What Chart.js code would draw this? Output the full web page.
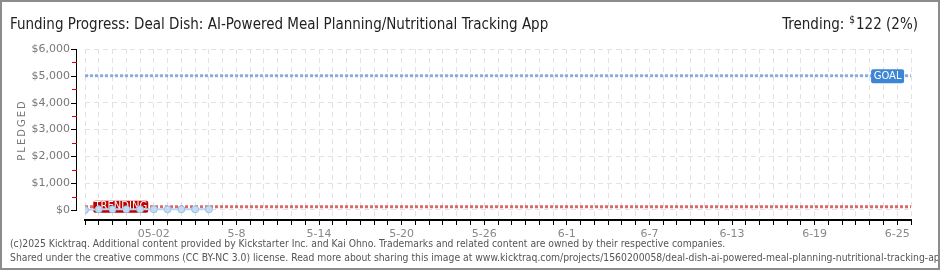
<!DOCTYPE html>
<html>
<head>
<meta charset="utf-8">
<script src="https://cdn.jsdelivr.net/npm/chart.js@4/dist/chart.umd.min.js"></script>
<style>
  html, body { margin: 0; padding: 0; background: #fff; }
  #wrap { width: 940px; height: 270px; position: relative; }
</style>
</head>
<body>
<div id="wrap"><canvas id="funding-chart" width="940" height="270"></canvas></div>
<script>
// Data (day 0 = 4-27)
const pledgedDays = [0, 1, 2, 3, 4, 5, 6, 7, 8, 9];
const pledgedValues = [0, 25, 25, 25, 25, 25, 25, 25, 25, 25];
const goalValue = 5000;
const trendingValue = 122;
const lastDay = 60;
const tickDays = [5, 11, 17, 23, 29, 35, 41, 47, 53, 59];
const tickLabels = ['05-02', '5-8', '5-14', '5-20', '5-26', '6-1', '6-7', '6-13', '6-19', '6-25'];
const yTicks = [0, 1000, 2000, 3000, 4000, 5000, 6000];
const yMinorTicks = [500, 1500, 2500, 3500, 4500, 5500];

const titleText = 'Funding Progress: Deal Dish: AI-Powered Meal Planning/Nutritional Tracking App';
const footer1 = '(c)2025 Kicktraq. Additional content provided by Kickstarter Inc. and Kai Ohno. Trademarks and related content are owned by their respective companies.';
const footer2 = 'Shared under the creative commons (CC BY-NC 3.0) license. Read more about sharing this image at www.kicktraq.com/projects/1560200058/deal-dish-ai-powered-meal-planning-nutritional-tracking-app/';

const NARROW = "'Liberation Sans Narrow', 'DejaVu Sans Condensed', sans-serif";

function roundBox(ctx, x, y, w, h, r) {
    ctx.beginPath();
    ctx.moveTo(x + r, y);
    ctx.lineTo(x + w - r, y);
    ctx.quadraticCurveTo(x + w, y, x + w, y + r);
    ctx.lineTo(x + w, y + h - r);
    ctx.quadraticCurveTo(x + w, y + h, x + w - r, y + h);
    ctx.lineTo(x + r, y + h);
    ctx.quadraticCurveTo(x, y + h, x, y + h - r);
    ctx.lineTo(x, y + r);
    ctx.quadraticCurveTo(x, y, x + r, y);
    ctx.closePath();
}

// Frame, titles, footer and the detached y axis
const decorations = {
    id: 'decorations',
    beforeDraw(chart) {
        const ctx = chart.ctx;
        ctx.save();
        ctx.fillStyle = '#fff';
        ctx.fillRect(0, 0, chart.width, chart.height);
        ctx.restore();
    },
    beforeDatasetsDraw(chart) {
        const ctx = chart.ctx;
        const y = chart.scales.y;
        const axisX = chart.chartArea.left - 9;
        ctx.save();
        // y axis line
        ctx.strokeStyle = '#000';
        ctx.lineWidth = 1;
        ctx.beginPath();
        ctx.moveTo(axisX + 0.5, y.getPixelForValue(6000));
        ctx.lineTo(axisX + 0.5, y.getPixelForValue(0));
        ctx.stroke();
        yTicks.forEach(v => {
            const py = Math.round(y.getPixelForValue(v)) + 0.5;
            ctx.beginPath();
            ctx.moveTo(axisX - 5, py);
            ctx.lineTo(axisX + 1, py);
            ctx.stroke();
        });
        ctx.strokeStyle = '#e00000';
        yMinorTicks.forEach(v => {
            const py = Math.round(y.getPixelForValue(v)) + 0.5;
            ctx.beginPath();
            ctx.moveTo(axisX - 4, py);
            ctx.lineTo(axisX + 1, py);
            ctx.stroke();
        });
        ctx.restore();
    },
    // labels sit above the reference lines but under the pledged points
    beforeDatasetDraw(chart, args) {
        if (args.index !== 2) return;
        const ctx = chart.ctx;
        const x = chart.scales.x;
        const y = chart.scales.y;
        ctx.save();
        const ty = y.getPixelForValue(trendingValue);
        const tx = x.getPixelForValue(0.6);
        ctx.fillStyle = '#c00000';
        roundBox(ctx, tx, ty - 6, 55, 12, 2);
        ctx.fill();
        const gy = y.getPixelForValue(goalValue);
        const gx = x.getPixelForValue(57.1);
        ctx.fillStyle = '#3d86d6';
        roundBox(ctx, gx, gy - 6.5, 33, 14, 2);
        ctx.fill();
        ctx.fillStyle = '#fff';
        ctx.font = "10px 'DejaVu Sans'";
        ctx.textBaseline = 'middle';
        ctx.textAlign = 'center';
        ctx.fillText('TRENDING', tx + 27.5, ty);
        ctx.fillText('GOAL', gx + 16.5, gy + 0.5);
        ctx.restore();
    },
    afterDraw(chart) {
        const ctx = chart.ctx;
        ctx.save();
        // title
        ctx.fillStyle = '#222';
        ctx.textBaseline = 'alphabetic';
        ctx.font = '15px ' + NARROW;
        ctx.textAlign = 'left';
        ctx.fillText(titleText, 10, 29);
        // trending text
        ctx.textAlign = 'right';
        ctx.fillText('122 (2%)', 918, 29);
        const w1 = ctx.measureText('122 (2%)').width;
        ctx.font = '10px ' + NARROW;
        ctx.fillText('$', 918 - w1 - 1, 23);
        const w2 = ctx.measureText('$').width;
        ctx.font = '15px ' + NARROW;
        ctx.fillText('Trending:', 918 - w1 - w2 - 6, 29);

        // PLEDGED axis title
        ctx.save();
        ctx.translate(22, 130);
        ctx.rotate(-Math.PI / 2);
        ctx.fillStyle = '#777';
        ctx.font = "10px 'DejaVu Sans'";
        ctx.textAlign = 'center';
        ctx.textBaseline = 'middle';
        ctx.letterSpacing = '2px';
        ctx.fillText('PLEDGED', 0, 0);
        ctx.restore();

        // footer
        ctx.fillStyle = '#555';
        ctx.font = '10.3px ' + NARROW;
        ctx.textAlign = 'left';
        ctx.fillText(footer1, 10, 247);
        ctx.fillText(footer2, 10, 261);

        // frame
        ctx.strokeStyle = '#8c8c8c';
        ctx.lineWidth = 2;
        ctx.strokeRect(1, 1, chart.width - 2, chart.height - 2);
        ctx.restore();
    }
};

const ctx = document.getElementById('funding-chart').getContext('2d');

new Chart(ctx, {
    type: 'line',
    data: {
        datasets: [
            {
                label: 'Goal',
                data: [{ x: 0, y: goalValue }, { x: lastDay, y: goalValue }],
                borderColor: 'rgba(110, 155, 215, 0.8)',
                borderWidth: 3,
                borderDash: [3, 2],
                pointRadius: 0,
                fill: false,
                order: 2,
            },
            {
                label: 'Trending',
                data: [{ x: 0, y: trendingValue }, { x: lastDay, y: trendingValue }],
                borderColor: 'rgba(205, 70, 70, 0.8)',
                borderWidth: 3,
                borderDash: [3, 2],
                pointRadius: 0,
                fill: false,
                order: 1,
            },
            {
                label: 'Pledged',
                data: pledgedDays.map((d, i) => ({ x: d, y: pledgedValues[i] })),
                borderColor: '#bcd5f0',
                borderWidth: 2,
                pointRadius: 3.5,
                pointBackgroundColor: '#c4dbf4',
                pointBorderColor: '#9dbde3',
                pointBorderWidth: 1,
                tension: 0,
                fill: false,
                order: 0,
            }
        ]
    },
    options: {
        responsive: false,
        animation: false,
        layout: { padding: { top: 49, right: 29, left: 0, bottom: 0 } },
        plugins: {
            legend: { display: false },
            tooltip: { enabled: false },
        },
        scales: {
            x: {
                type: 'linear',
                min: 0,
                max: lastDay,
                afterBuildTicks: scale => {
                    const t = [];
                    for (let d = 0; d <= lastDay; d++) t.push({ value: d });
                    scale.ticks = t;
                },
                afterFit: scale => { scale.height = 50; },
                ticks: {
                    autoSkip: false,
                    maxRotation: 0,
                    padding: 3,
                    font: { size: 11, family: "'DejaVu Sans'" },
                    color: '#888',
                    callback: v => {
                        const i = tickDays.indexOf(v);
                        return i >= 0 ? tickLabels[i] : '';
                    }
                },
                grid: {
                    color: '#e2e2e2',
                    lineWidth: 1,
                    tickColor: '#000',
                    tickLength: 5,
                },
                border: { display: true, color: '#000', width: 2, dash: [5, 4] },
            },
            y: {
                type: 'linear',
                min: -373,
                max: 6000,
                afterBuildTicks: scale => {
                    scale.ticks = yTicks.map(v => ({ value: v }));
                },
                afterFit: scale => { scale.width = 85; },
                ticks: {
                    padding: 15,
                    font: { size: 11, family: "'DejaVu Sans'" },
                    color: '#777',
                    callback: v => '$' + v.toLocaleString('en-US'),
                },
                grid: {
                    color: '#e2e2e2',
                    lineWidth: 1,
                    drawTicks: false,
                },
                border: { display: false, dash: [5, 4] },
            }
        }
    },
    plugins: [decorations]
});
</script>
</body>
</html>
